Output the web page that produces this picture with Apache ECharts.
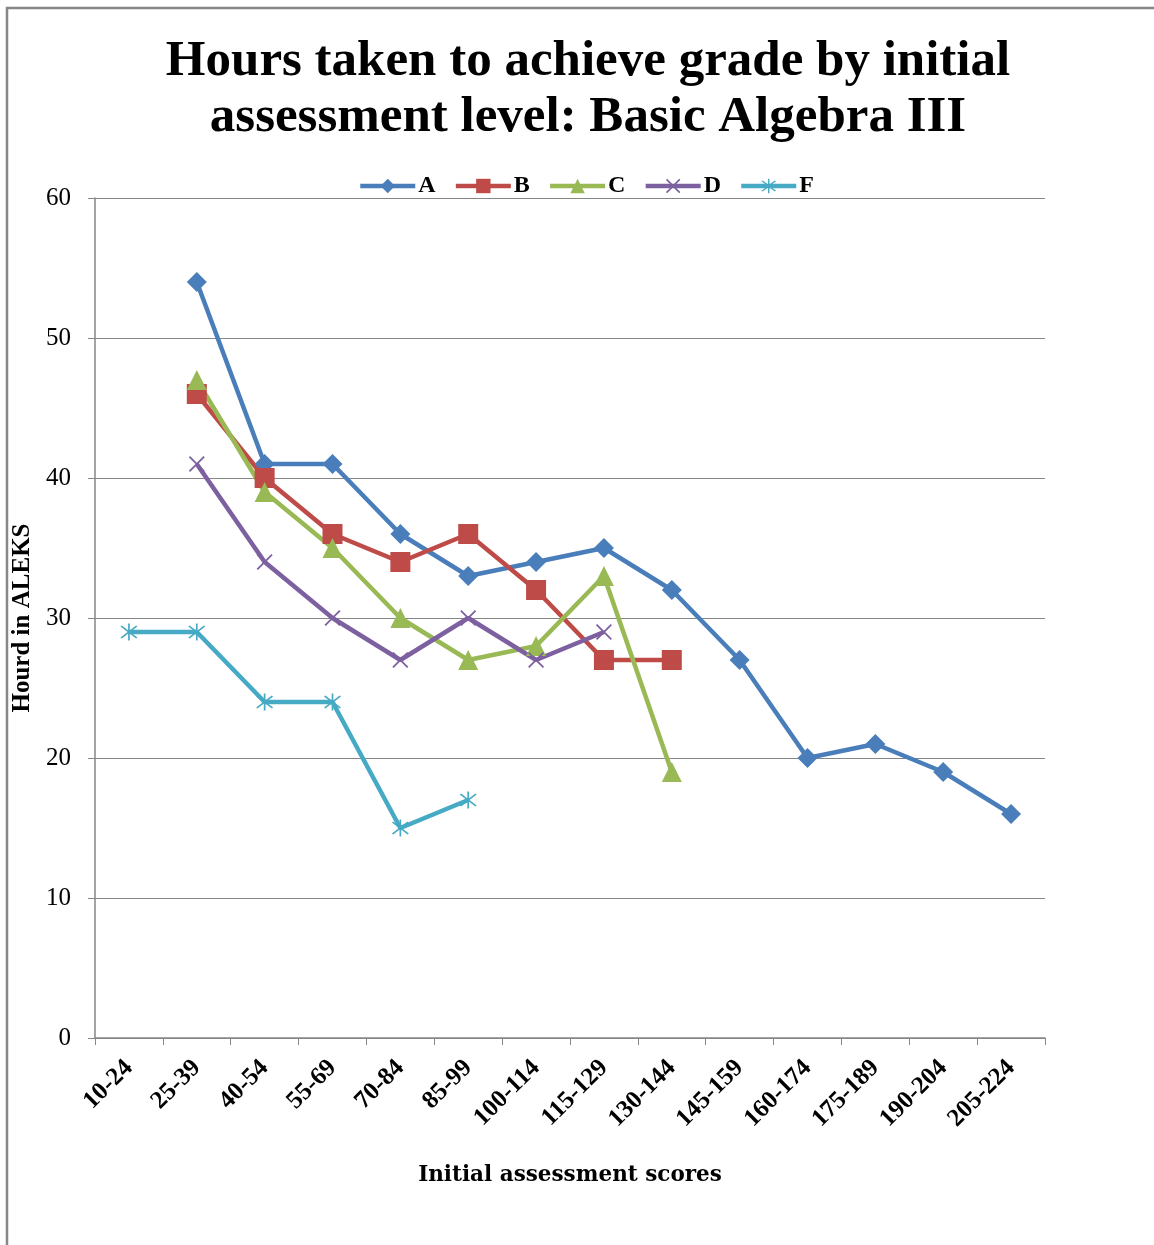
<!DOCTYPE html>
<html><head><meta charset="utf-8">
<script src="https://cdn.jsdelivr.net/npm/echarts@6/dist/echarts.min.js"></script>
<style>html,body{margin:0;padding:0;background:#fff}#c{width:1154px;height:1245px}</style>
</head><body><div id="c"></div>
<script>
const categories = ['10-24','25-39','40-54','55-69','70-84','85-99','100-114','115-129','130-144','145-159','160-174','175-189','190-204','205-224'];
const seriesA = ['-',54,41,41,36,33,34,35,32,27,20,21,19,16];
const seriesB = ['-',46,40,36,34,36,32,27,27,'-','-','-','-','-'];
const seriesC = ['-',47,39,35,30,27,28,33,19,'-','-','-','-','-'];
const seriesD = ['-',41,34,30,27,30,27,29,'-','-','-','-','-','-'];
const seriesF = [29,29,24,24,15,17,'-','-','-','-','-','-','-','-'];
const yTicks = {min:0, max:60, interval:10};

const SERIF = '"Liberation Serif","DejaVu Serif",serif';
const WIDE = '"DejaVu Serif","Liberation Serif",serif';
const xSym = 'path://M0,0.8L0.8,0L5,4.2L9.2,0L10,0.8L5.8,5L10,9.2L9.2,10L5,5.8L0.8,10L0,9.2L4.2,5Z';
const starSym = 'path://M0,0.8L0.8,0L5,4.2L9.2,0L10,0.8L5.8,5L10,9.2L9.2,10L5,5.8L0.8,10L0,9.2L4.2,5ZM4.5,-1.5L5.5,-1.5L5.5,11.5L4.5,11.5Z';

function mk(name, data, color, symbol, size){
  return {name, type:'line', data, symbol, symbolSize:size, showSymbol:true,
    lineStyle:{color, width:4.5}, itemStyle:{color}, emphasis:{disabled:true}};
}
const chart = echarts.init(document.getElementById('c'), null, {renderer:'canvas'});
chart.setOption({
  animation:false,
  backgroundColor:'#fff',
  title:{text:'Hours taken to achieve grade by initial\nassessment level: Basic Algebra III', left:583, textAlign:'center', top:29,
    textStyle:{fontFamily:SERIF, fontWeight:'bold', fontSize:51, lineHeight:56, color:'#000'}},
  legend:{top:169, left:353, itemWidth:55, itemHeight:18, itemGap:18,
    lineStyle:{width:4.5},
    textStyle:{fontFamily:SERIF, fontWeight:'bold', fontSize:24, color:'#000', padding:[0,0,0,-2]},
    data:['A','B','C','D','F']},
  graphic:[{type:'rect', shape:{x:7, y:8, width:1200, height:1300}, style:{fill:'none', stroke:'#878787', lineWidth:2.5}, silent:true}],
  grid:{left:95, right:109, top:198, bottom:207, containLabel:false},
  xAxis:{type:'category', data:categories, boundaryGap:true,
    name:'Initial assessment scores', nameLocation:'middle', nameGap:126,
    nameTextStyle:{fontFamily:WIDE, fontWeight:'bold', fontSize:21.5, color:'#000'},
    axisLine:{lineStyle:{color:'#868686', width:1.5}},
    axisTick:{show:true, length:7, lineStyle:{color:'#868686'}},
    axisLabel:{rotate:45, fontFamily:SERIF, fontWeight:'bold', fontSize:25, color:'#000', margin:26, interval:0}},
  yAxis:{type:'value', min:yTicks.min, max:yTicks.max, interval:yTicks.interval,
    name:'Hourd in ALEKS', nameLocation:'middle', nameGap:57,
    nameTextStyle:{fontFamily:SERIF, fontWeight:'bold', fontSize:25, color:'#000'},
    axisLine:{show:true, lineStyle:{color:'#868686', width:1.5}},
    axisTick:{show:true, length:7, lineStyle:{color:'#868686'}},
    splitLine:{lineStyle:{color:'#868686', width:1}},
    axisLabel:{fontFamily:SERIF, fontSize:25, color:'#000', margin:24}},
  series:[
    mk('A', seriesA, '#4A7EBB', 'diamond', 20),
    mk('B', seriesB, '#BE4B48', 'rect', 20),
    mk('C', seriesC, '#98B954', 'triangle', 20),
    mk('D', seriesD, '#7D60A0', xSym, 16),
    mk('F', seriesF, '#46AAC5', starSym, 17)
  ]
});
</script></body></html>
